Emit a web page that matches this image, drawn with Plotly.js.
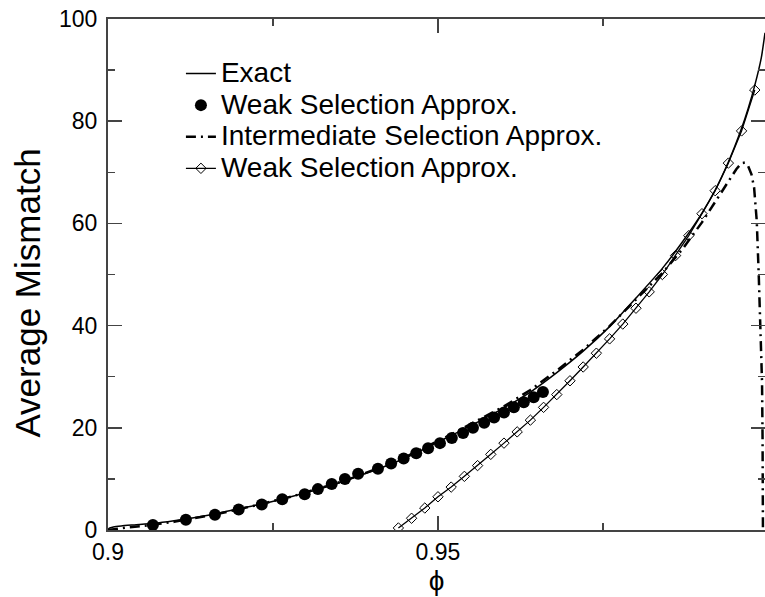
<!DOCTYPE html>
<html>
<head>
<meta charset="utf-8">
<script src="https://cdn.plot.ly/plotly-3.0.1.min.js"></script>
<style>html,body{margin:0;padding:0;background:#fff;}</style>
</head>
<body>
<div id="chart" style="width:765px;height:597px;"></div>
<script>
// ---- data ----
const seriesNames = ["Exact", "Weak Selection Approx.", "Intermediate Selection Approx.", "Weak Selection Approx."];

const phiExact = [0.9, 0.9002, 0.9008, 0.902, 0.904, 0.907, 0.910, 0.913, 0.916, 0.920, 0.924, 0.928, 0.932, 0.936, 0.940, 0.944, 0.948, 0.952, 0.956, 0.960, 0.964, 0.968, 0.972, 0.976, 0.980, 0.984, 0.987, 0.990, 0.992, 0.994, 0.996, 0.997, 0.998, 0.999, 0.99955];
const mismatchExact = [0, 0.35, 0.6, 0.8, 1.0, 1.3, 1.8, 2.4, 3.1, 4.2, 5.3, 6.6, 8.0, 9.7, 11.5, 13.5, 15.9, 18.5, 21.1, 23.9, 27.0, 30.8, 35.0, 39.8, 45.4, 51.2, 56.3, 62.0, 66.5, 72.0, 78.6, 82.5, 87.0, 92.5, 97.3];

const phiWeakDots = [0.9068, 0.9118, 0.9162, 0.9198, 0.9233, 0.9264, 0.9298, 0.9318, 0.9339, 0.9359, 0.9379, 0.9409, 0.9429, 0.9448, 0.9467, 0.9485, 0.9503, 0.9521, 0.9538, 0.9553, 0.9570, 0.9585, 0.9600, 0.9615, 0.9630, 0.9645, 0.9659];
const mismatchWeakDots = [1, 2, 3, 4, 5, 6, 7, 8, 9, 10, 11, 12, 13, 14, 15, 16, 17, 18, 19, 20, 21, 22, 23, 24, 25, 26, 27];

const phiIntermediate = [0.9, 0.901, 0.903, 0.906, 0.910, 0.916, 0.920, 0.928, 0.936, 0.944, 0.952, 0.960, 0.964, 0.968, 0.972, 0.976, 0.980, 0.984, 0.987, 0.990, 0.992, 0.994, 0.9952, 0.9960, 0.9965, 0.9970, 0.9975, 0.9979, 0.9983, 0.9986, 0.9989, 0.9991, 0.99918, 0.99922, 0.99924];
const mismatchIntermediate = [0, 0.2, 0.5, 0.9, 1.6, 3.0, 4.1, 6.6, 9.7, 13.6, 18.7, 24.2, 27.4, 31.2, 35.3, 39.9, 45.0, 50.3, 54.9, 60.2, 64.2, 68.3, 70.6, 71.8, 71.9, 71.2, 69.6, 67.0, 60.5, 50.0, 38.0, 29.0, 18.0, 8.0, 0];

const phiWeakDiamonds = [0.944, 0.946, 0.948, 0.950, 0.952, 0.954, 0.956, 0.958, 0.960, 0.962, 0.964, 0.966, 0.968, 0.970, 0.972, 0.974, 0.976, 0.978, 0.980, 0.982, 0.984, 0.986, 0.988, 0.990, 0.992, 0.994, 0.996, 0.998];
const mismatchWeakDiamonds = [0.4, 2.3, 4.3, 6.5, 8.4, 10.5, 12.6, 14.8, 17.0, 19.2, 21.5, 24.0, 26.5, 29.2, 31.9, 34.6, 37.4, 40.3, 43.4, 46.6, 50.0, 53.7, 57.6, 61.9, 66.4, 71.8, 78.1, 86.1];

const xTickVals = [0.9, 0.95];
const xTickText = ["0.9", "0.95"];
const yTickVals = [0, 20, 40, 60, 80, 100];
const yTickText = ["0", "20", "40", "60", "80", "100"];
const xTitle = "\u03D5";
const yTitle = "Average Mismatch";

// ---- traces ----
const FONT = "Liberation Sans, Arial, Helvetica, sans-serif";
const big = s => '<span style="font-size:28px">' + s + '</span>';
const traces = [
  {x: phiExact, y: mismatchExact, name: big(seriesNames[0]), type: "scatter", mode: "lines",
   line: {color: "#000", width: 1.5, shape: "spline", smoothing: 0.6}},
  {x: phiWeakDots, y: mismatchWeakDots, name: big(seriesNames[1]), type: "scatter", mode: "markers",
   marker: {color: "#000", size: 12, symbol: "circle"}},
  {x: phiIntermediate, y: mismatchIntermediate, name: big(seriesNames[2]), type: "scatter", mode: "lines",
   line: {color: "#000", width: 2.5, dash: "10px,5px,2px,5px"}},
  {x: phiWeakDiamonds, y: mismatchWeakDiamonds, name: big(seriesNames[3]), type: "scatter", mode: "lines+markers",
   line: {color: "#000", width: 1.3},
   marker: {symbol: "diamond-open", size: 8, color: "#000", line: {width: 1, color: "#000"}}}
];

const axisCommon = {
  showline: true, linecolor: "#444", linewidth: 2, mirror: "ticks",
  ticks: "inside", ticklen: 14, tickwidth: 1.5, tickcolor: "#444",
  showgrid: false, zeroline: false,
  tickfont: {family: FONT, size: 23, color: "#000"}
};

const layout = {
  width: 765, height: 597,
  margin: {l: 108, r: 0, t: 19, b: 67},
  paper_bgcolor: "#fff", plot_bgcolor: "#fff",
  font: {family: FONT, color: "#000"},
  showlegend: true,
  legend: {x: 0.111, y: 0.934, xanchor: "left", yanchor: "top",
           bgcolor: "rgba(0,0,0,0)", borderwidth: 0,
           font: {family: FONT, size: 22, color: "#000"}},
  xaxis: Object.assign({}, axisCommon, {
    range: [0.9, 0.99955], tickmode: "array", tickvals: xTickVals, ticktext: xTickText,
    minor: {ticks: "inside", ticklen: 7, tickwidth: 1.5, tickcolor: "#444", dtick: 0.025, tick0: 0.9},
    title: {text: xTitle, font: {family: FONT, size: 28, color: "#000"}, standoff: 4}
  }),
  yaxis: Object.assign({}, axisCommon, {
    range: [0, 100], tickmode: "array", tickvals: yTickVals, ticktext: yTickText,
    ticklabelstandoff: 4,
    minor: {ticks: "inside", ticklen: 7, tickwidth: 1.5, tickcolor: "#444", dtick: 10, tick0: 0}
  }),
  annotations: [{
    text: yTitle, textangle: -90, showarrow: false,
    xref: "paper", yref: "paper", x: -0.123, y: 0.463, xanchor: "center", yanchor: "middle",
    font: {family: FONT, size: 35, color: "#000"}
  }]
};

Plotly.newPlot("chart", traces, layout, {displayModeBar: false, staticPlot: true});
</script>
</body>
</html>
